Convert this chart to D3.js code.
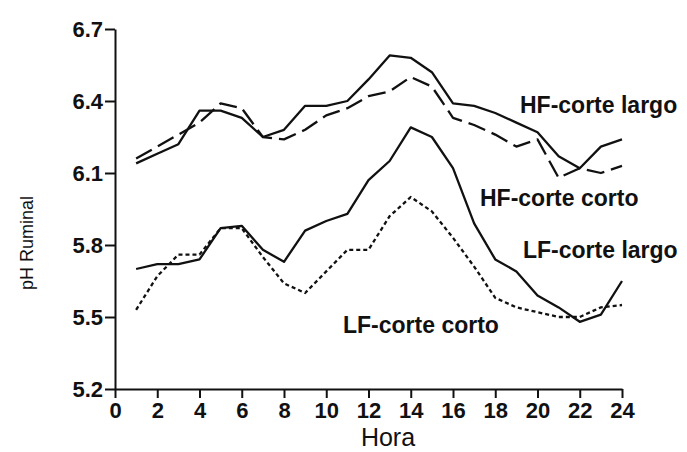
<!DOCTYPE html>
<html>
<head>
<meta charset="utf-8">
<script src="https://cdn.jsdelivr.net/npm/d3@7"></script>
<style>
  body { margin: 0; background: #fff; }
  svg { display: block; font-family: Arial, "Liberation Sans", sans-serif; }
  .axis path, .axis line { stroke: #111; stroke-width: 2px; }
  .axis text { font-size: 22px; font-weight: bold; fill: #111; }
  .serie { fill: none; stroke: #111; stroke-width: 2.3px; stroke-linejoin: round; }
  .etiqueta { font-size: 23px; font-weight: bold; fill: #111; }
</style>
</head>
<body>
<script>
// horas de muestreo
var horas = [1, 2, 3, 4, 5, 6, 7, 8, 9, 10, 11, 12, 13, 14, 15, 16, 17, 18, 19, 20, 21, 22, 23, 24]

// pH ruminal por tratamiento
var hfLargo = [6.14, 6.18, 6.22, 6.36, 6.36, 6.33, 6.25, 6.28, 6.38, 6.38, 6.40, 6.49, 6.59, 6.58, 6.52, 6.39, 6.38, 6.35, 6.31, 6.27, 6.17, 6.12, 6.21, 6.24]
var hfCorto = [6.16, 6.21, 6.26, 6.31, 6.39, 6.37, 6.25, 6.24, 6.28, 6.34, 6.37, 6.42, 6.44, 6.50, 6.46, 6.33, 6.30, 6.26, 6.21, 6.24, 6.08, 6.12, 6.10, 6.13]
var lfLargo = [5.70, 5.72, 5.72, 5.74, 5.87, 5.88, 5.78, 5.73, 5.86, 5.90, 5.93, 6.07, 6.15, 6.29, 6.25, 6.12, 5.89, 5.74, 5.69, 5.59, 5.54, 5.48, 5.51, 5.65]
var lfCorto = [5.53, 5.67, 5.76, 5.76, 5.87, 5.87, 5.75, 5.64, 5.60, 5.69, 5.78, 5.78, 5.92, 6.00, 5.94, 5.83, 5.71, 5.58, 5.54, 5.52, 5.50, 5.50, 5.54, 5.55]

var nombres = ['HF-corte largo', 'HF-corte corto', 'LF-corte largo', 'LF-corte corto']

var xTicks = [0, 2, 4, 6, 8, 10, 12, 14, 16, 18, 20, 22, 24]
var yTicks = [5.2, 5.5, 5.8, 6.1, 6.4, 6.7]

var width = 687,
    height = 452
var margin = {top: 29, right: 65, bottom: 63, left: 115}

var svg = d3.select('body').append('svg')
    .attr('width', width)
    .attr('height', height)

var x = d3.scaleLinear()
    .domain([0, 24])
    .range([margin.left, width - margin.right])

var y = d3.scaleLinear()
    .domain([5.2, 6.7])
    .range([height - margin.bottom, margin.top])

// ejes
svg.append('g')
    .attr('class', 'axis')
    .attr('transform', `translate(0,${y(5.2)})`)
    .call(d3.axisBottom(x).tickValues(xTicks).tickFormat(d3.format('d')).tickSize(9).tickSizeOuter(0).tickPadding(4))

svg.append('g')
    .attr('class', 'axis')
    .attr('transform', `translate(${x(0)},0)`)
    .call(d3.axisLeft(y).tickValues(yTicks).tickFormat(d3.format('.1f')).tickSize(10).tickSizeOuter(0).tickPadding(2))

// series
var series = [
    {nombre: nombres[0], valores: hfLargo, dash: null},
    {nombre: nombres[1], valores: hfCorto, dash: '18,7'},
    {nombre: nombres[2], valores: lfLargo, dash: null},
    {nombre: nombres[3], valores: lfCorto, dash: '4,3'}
]

var line = d3.line()
    .x((d, i) => x(horas[i]))
    .y(d => y(d))

svg.selectAll('.serie')
    .data(series).enter()
    .append('path')
    .attr('class', 'serie')
    .attr('d', d => line(d.valores))
    .attr('stroke-dasharray', d => d.dash)

// etiquetas
var posEtiquetas = [[520, 113], [480, 206], [523, 258], [343, 333]]
svg.selectAll('.etiqueta')
    .data(nombres).enter()
    .append('text')
    .attr('class', 'etiqueta')
    .attr('x', (d, i) => posEtiquetas[i][0])
    .attr('y', (d, i) => posEtiquetas[i][1])
    .text(String)

// títulos de ejes
svg.append('text')
    .attr('x', 388)
    .attr('y', 446)
    .attr('text-anchor', 'middle')
    .style('font-size', '25px')
    .style('fill', '#111')
    .text('Hora')

svg.append('text')
    .attr('transform', 'translate(33,243) rotate(-90)')
    .attr('text-anchor', 'middle')
    .style('font-size', '18px')
    .style('fill', '#111')
    .text('pH Ruminal')
</script>
</body>
</html>
